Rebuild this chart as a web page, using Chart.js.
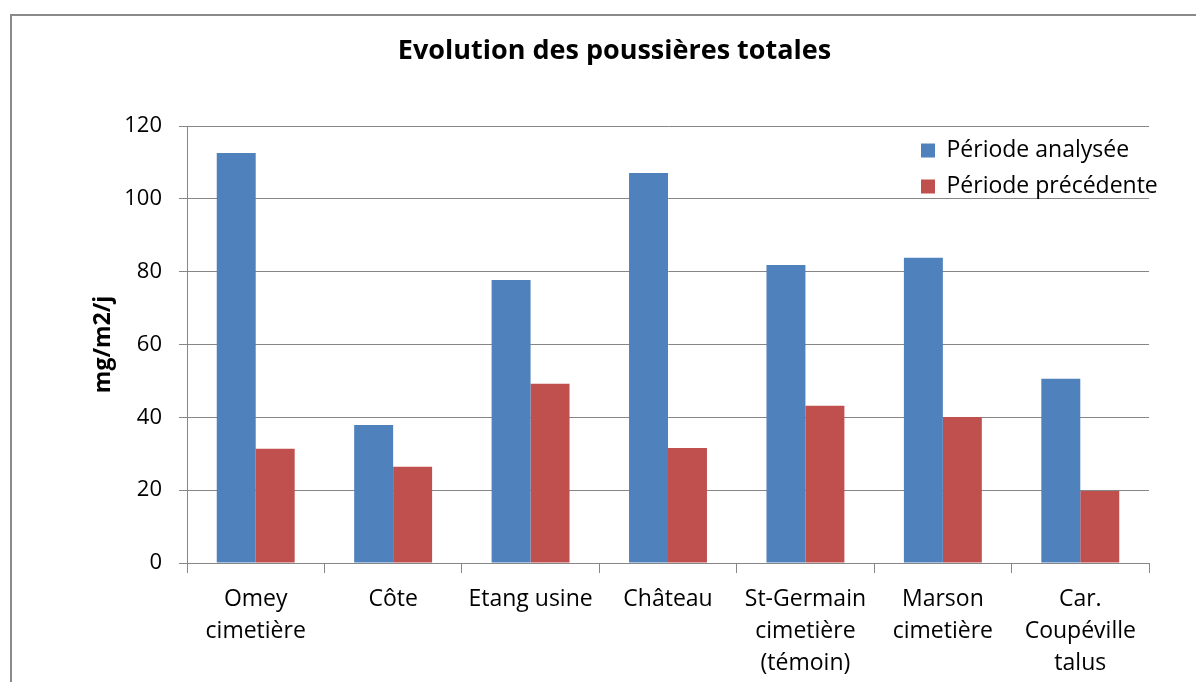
<!DOCTYPE html>
<html>
<head>
<meta charset="utf-8">
<script src="https://cdn.jsdelivr.net/npm/chart.js@4.4.1/dist/chart.umd.min.js"></script>
<style>
  html, body { margin: 0; padding: 0; background: #ffffff; }
  #c { display: block; }
</style>
</head>
<body>
<canvas id="c" width="1196" height="682"></canvas>
<script>
const categories = [
  ['Omey', 'cimetière'],
  'Côte',
  'Etang usine',
  'Château',
  ['St-Germain', 'cimetière', '(témoin)'],
  ['Marson', 'cimetière'],
  ['Car.', 'Coupéville', 'talus']
];
const periodeAnalysee = [112.6, 37.9, 77.7, 107.1, 81.8, 83.8, 50.6];
const periodePrecedente = [31.4, 26.4, 49.2, 31.6, 43.2, 40.1, 19.8];
const seriesNames = ['Période analysée', 'Période précédente'];
const chartTitle = 'Evolution des poussières totales';
const yAxisTitle = 'mg/m2/j';
const yMin = 0, yMax = 120, yStep = 20;

const FONT = "'Open Sans', 'DejaVu Sans', sans-serif";
const GRID = '#868686';

const chartBorder = {
  id: 'chartBorder',
  beforeDraw(chart) {
    const ctx = chart.ctx;
    ctx.save();
    ctx.strokeStyle = '#8a8a8a';
    ctx.lineWidth = 2;
    ctx.strokeRect(11, 15, 1400, 900);
    ctx.restore();
  }
};

const legendPos = {
  id: 'legendPos',
  afterLayout(chart) {
    const l = chart.legend;
    if (!l) return;
    const w = l.width, h = l.height;
    l.left = 908; l.top = 126;
    l.right = l.left + w; l.bottom = l.top + h;
  }
};

new Chart(document.getElementById('c'), {
  type: 'bar',
  data: {
    labels: categories,
    datasets: [
      { label: seriesNames[0], data: periodeAnalysee, backgroundColor: '#4F81BD', borderWidth: 0 },
      { label: seriesNames[1], data: periodePrecedente, backgroundColor: '#C0504D', borderWidth: 0 }
    ]
  },
  options: {
    responsive: false,
    animation: false,
    devicePixelRatio: 1,
    layout: { padding: { left: 80, right: 47, top: 0, bottom: 0 } },
    datasets: { bar: { categoryPercentage: 0.567, barPercentage: 1.0 } },
    plugins: {
      title: {
        display: true,
        text: chartTitle,
        color: '#000000',
        font: { family: FONT, size: 27, weight: 'bold', lineHeight: 1.2 },
        padding: { top: 35, bottom: 58.6 }
      },
      legend: {
        display: true,
        position: 'chartArea',
        align: 'start',
        labels: {
          color: '#000000',
          font: { family: FONT, size: 23 },
          boxWidth: 14,
          boxHeight: 14,
          padding: 13
        }
      },
      tooltip: { enabled: false }
    },
    scales: {
      x: {
        grid: {
          display: true,
          drawOnChartArea: false,
          drawTicks: true,
          tickLength: 10,
          color: GRID,
          lineWidth: 1,
          offset: true
        },
        border: { display: true, color: GRID, width: 1 },
        ticks: {
          color: '#000000',
          font: { family: FONT, size: 23, lineHeight: 1.4 },
          padding: 10,
          maxRotation: 0,
          minRotation: 0,
          autoSkip: false
        },
        afterFit(scale) { scale.height = 119; }
      },
      y: {
        min: yMin,
        max: yMax,
        grid: {
          color: GRID,
          lineWidth: 1,
          tickLength: 8,
          drawTicks: true
        },
        border: { display: true, color: GRID, width: 1 },
        ticks: {
          stepSize: yStep,
          color: '#000000',
          font: { family: FONT, size: 22 },
          padding: 17
        },
        title: {
          display: true,
          text: yAxisTitle,
          color: '#000000',
          font: { family: FONT, size: 23, weight: 'bold', lineHeight: 1.2 },
          padding: { top: 10, bottom: 0 }
        },
        afterFit(scale) { scale.width = 107; }
      }
    }
  },
  plugins: [chartBorder, legendPos]
});
</script>
</body>
</html>
